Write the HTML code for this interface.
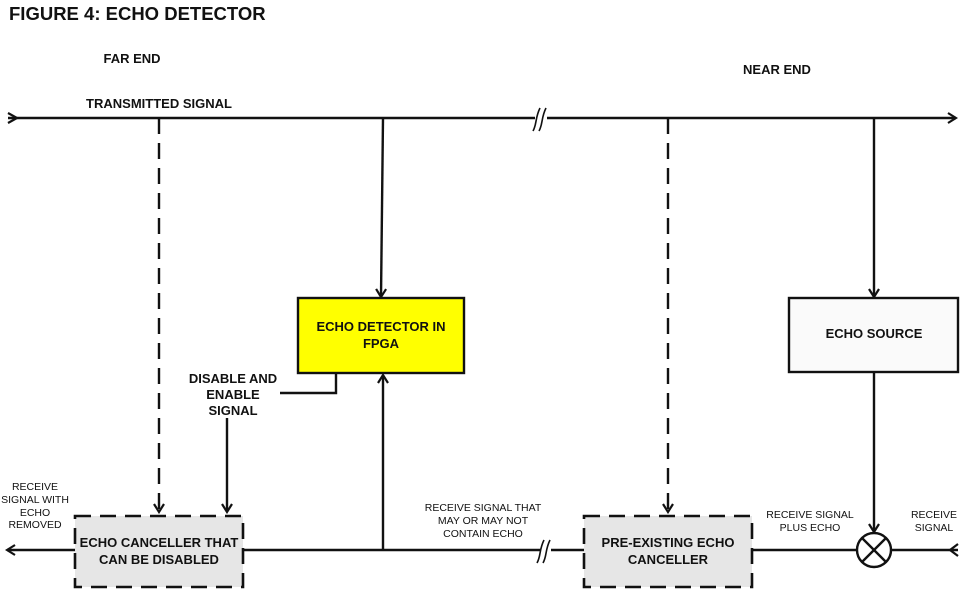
<!DOCTYPE html>
<html><head><meta charset="utf-8"><style>
html,body{margin:0;padding:0;background:#fff;}
svg{display:block;font-family:"Liberation Sans",Arial,sans-serif;}
.b{font-weight:bold;font-size:13px;fill:#111;}
.s{font-size:10.5px;fill:#111;}
</style></head><body>
<svg width="960" height="589" viewBox="0 0 960 589" xmlns="http://www.w3.org/2000/svg">
<defs>
<marker id="ar" markerWidth="12" markerHeight="12" refX="10" refY="6" orient="auto" markerUnits="userSpaceOnUse">
<path d="M2,1 L10,6 L2,11" fill="none" stroke="#111" stroke-width="2.2"/>
</marker>
</defs>
<text x="9" y="20" font-weight="bold" font-size="18.5" fill="#111">FIGURE 4: ECHO DETECTOR</text>
<text class="b" x="132" y="63" text-anchor="middle">FAR END</text>
<text class="b" x="777" y="74" text-anchor="middle">NEAR END</text>
<text class="b" x="159" y="108" text-anchor="middle">TRANSMITTED SIGNAL</text>

<g stroke="#111" stroke-width="2.4" fill="none">
<!-- top line -->
<line x1="8" y1="118" x2="535" y2="118"/>
<line x1="547" y1="118" x2="956" y2="118" marker-end="url(#ar)"/>
<path d="M8,113 L17,118 L8,123" stroke-width="2.2"/>
<path d="M533,131 C537,124 535,118 540,108 M539,131 C543,124 541,118 546,108" stroke-width="1.6"/>
<!-- dashed verticals -->
<line x1="159" y1="118" x2="159" y2="512" stroke-dasharray="16,9" marker-end="url(#ar)"/>
<line x1="668" y1="118" x2="668" y2="512" stroke-dasharray="16,9" marker-end="url(#ar)"/>
<!-- solid verticals -->
<line x1="383" y1="118" x2="381" y2="297" marker-end="url(#ar)"/>
<line x1="874" y1="118" x2="874" y2="297" marker-end="url(#ar)"/>
<!-- disable signal -->
<polyline points="336,373 336,393 280,393"/>
<line x1="227" y1="418" x2="227" y2="512" marker-end="url(#ar)"/>
<!-- bottom line -->
<line x1="243" y1="550" x2="541" y2="550"/>
<line x1="551" y1="550" x2="584" y2="550"/>
<path d="M537,563 C541,556 539,550 544,540 M543,563 C547,556 545,550 550,540" stroke-width="1.6"/>
<line x1="383" y1="550" x2="383" y2="375" marker-end="url(#ar)"/>
<line x1="75" y1="550" x2="7" y2="550" marker-end="url(#ar)"/>
<line x1="752" y1="550" x2="858" y2="550"/>
<line x1="890" y1="550" x2="958" y2="550"/>
<path d="M958,544 L950,550 L958,556" stroke-width="2.2"/>
<line x1="874" y1="372" x2="874" y2="532" marker-end="url(#ar)"/>
<circle cx="874" cy="550" r="17"/>
<line x1="862" y1="538" x2="886" y2="562"/>
<line x1="886" y1="538" x2="862" y2="562"/>
</g>

<!-- boxes -->
<rect x="298" y="298" width="166" height="75" fill="#ffff00" stroke="#111" stroke-width="2.4"/>
<text class="b" x="381" y="331" text-anchor="middle">ECHO DETECTOR IN</text>
<text class="b" x="381" y="348" text-anchor="middle">FPGA</text>
<rect x="789" y="298" width="169" height="74" fill="#fafafa" stroke="#111" stroke-width="2.4"/>
<text class="b" x="874" y="338" text-anchor="middle">ECHO SOURCE</text>

<rect x="75" y="516" width="168" height="71" fill="#e6e6e6" stroke="#111" stroke-width="2.6" stroke-dasharray="16,9"/>
<text class="b" x="159" y="547" text-anchor="middle">ECHO CANCELLER THAT</text>
<text class="b" x="159" y="564" text-anchor="middle">CAN BE DISABLED</text>
<rect x="584" y="516" width="168" height="71" fill="#e6e6e6" stroke="#111" stroke-width="2.6" stroke-dasharray="16,9"/>
<text class="b" x="668" y="547" text-anchor="middle">PRE-EXISTING ECHO</text>
<text class="b" x="668" y="564" text-anchor="middle">CANCELLER</text>

<text class="b" x="233" y="383" text-anchor="middle">DISABLE AND</text>
<text class="b" x="233" y="399" text-anchor="middle">ENABLE</text>
<text class="b" x="233" y="415" text-anchor="middle">SIGNAL</text>

<g class="s" text-anchor="middle">
<text x="35" y="490">RECEIVE</text>
<text x="35" y="503">SIGNAL WITH</text>
<text x="35" y="516">ECHO</text>
<text x="35" y="528">REMOVED</text>
<text x="483" y="511">RECEIVE SIGNAL THAT</text>
<text x="483" y="524">MAY OR MAY NOT</text>
<text x="483" y="537">CONTAIN ECHO</text>
<text x="810" y="518">RECEIVE SIGNAL</text>
<text x="810" y="531">PLUS ECHO</text>
<text x="934" y="518">RECEIVE</text>
<text x="934" y="531">SIGNAL</text>
</g>
</svg>
</body></html>
